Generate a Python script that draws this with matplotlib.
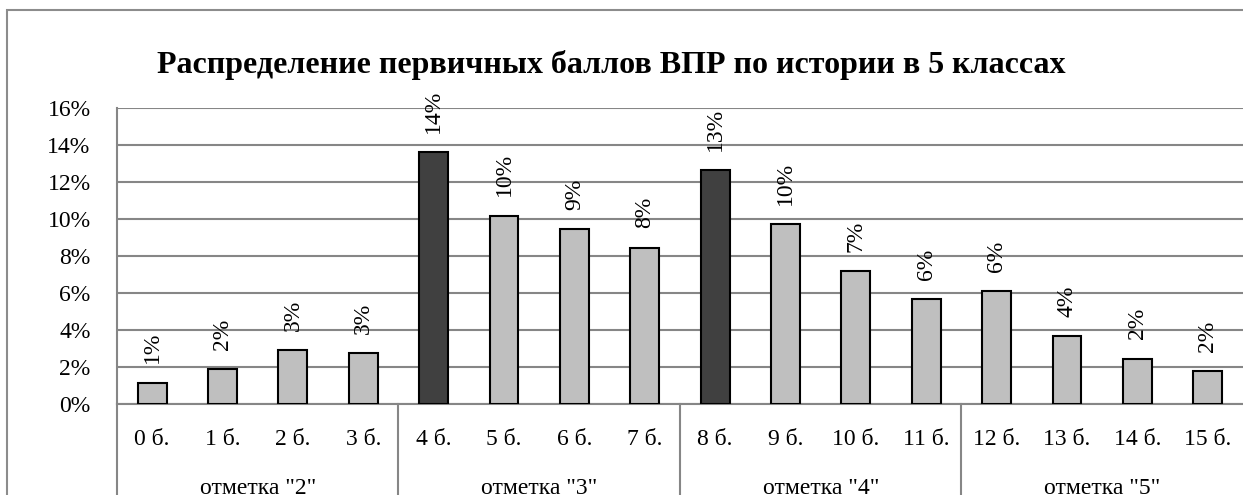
import matplotlib.pyplot as plt
from matplotlib.patches import Rectangle
from matplotlib.transforms import blended_transform_factory

plt.rcParams['font.family'] = ['Liberation Serif', 'DejaVu Serif']

# первичные баллы и доли учащихся
points = ["0 б.", "1 б.", "2 б.", "3 б.", "4 б.", "5 б.", "6 б.", "7 б.",
          "8 б.", "9 б.", "10 б.", "11 б.", "12 б.", "13 б.", "14 б.", "15 б."]
shares = [1.15, 1.89, 2.92, 2.74, 13.62, 10.18, 9.46, 8.45,
          12.65, 9.73, 7.19, 5.66, 6.09, 3.68, 2.45, 1.77]
grades = ['отметка "2"', 'отметка "3"', 'отметка "4"', 'отметка "5"']
grade_size = 4
highlight = ["4 б.", "8 б."]

fig = plt.figure(figsize=(12.43, 4.95), dpi=100)
ax = fig.add_axes([0.0941, 0.1838, 0.9059, 0.5974])

# рамка диаграммы
fig.patches.append(Rectangle((7 / 1243, -0.1), 1.2, 1 - 10 / 495 + 0.1,
                             transform=fig.transFigure, fill=False,
                             edgecolor="#8c8c8c", linewidth=1.5))

x = list(range(len(points)))
colors = ["#404040" if p in highlight else "#bfbfbf" for p in points]
bars = ax.bar(x, shares, width=0.41, color=colors, edgecolor="black",
              linewidth=1.5, zorder=3)

for b, v in zip(bars, shares):
    ax.annotate(f"{round(v):d}%", (b.get_x() + b.get_width() / 2, v),
                xytext=(0, 14), textcoords="offset points",
                rotation=90, ha="center", va="bottom", fontsize=17)

ax.set_xlim(-0.5, len(points) - 0.5)
ax.set_ylim(0, 16)
ax.set_yticks(range(0, 17, 2))
ax.set_yticklabels([f"{t}%" for t in range(0, 17, 2)], fontsize=17)
ax.tick_params(axis="y", length=0, pad=19)
ax.set_xticks([])
ax.grid(axis="y", color="#868686", linewidth=1.5, zorder=0)
for s in ["top", "right", "bottom"]:
    ax.spines[s].set_visible(False)
ax.spines["left"].set_color("#868686")
ax.spines["left"].set_linewidth(1.5)

# двухуровневая ось категорий
tr = blended_transform_factory(ax.transData, ax.transAxes)
for i, p in enumerate(points):
    ax.text(i, -0.1385, p, transform=tr, ha="center", va="baseline", fontsize=17)
for g, name in enumerate(grades):
    mid = g * grade_size + (grade_size - 1) / 2
    ax.text(mid, -0.303, name, transform=tr, ha="center", va="baseline", fontsize=17)
for g in range(len(grades)):
    xs = g * grade_size - 0.5
    ax.plot([xs, xs], [0, -0.4], transform=tr, color="#868686",
            linewidth=1.5, clip_on=False)
ax.plot([-0.5, len(points) - 0.5], [0, 0], transform=tr, color="#868686",
        linewidth=1.5, clip_on=False)

fig.text(611 / 1243, 1 - 73 / 495, "Распределение первичных баллов ВПР по истории в 5 классах",
         ha="center", va="baseline", fontsize=23, fontweight="bold")

fig.savefig("out.png", dpi=100)
